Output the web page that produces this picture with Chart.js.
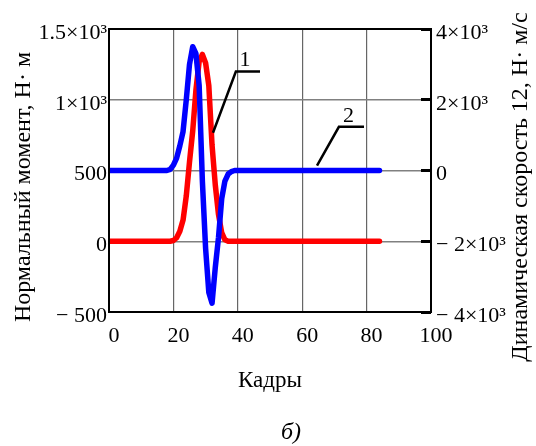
<!DOCTYPE html>
<html>
<head>
<meta charset="utf-8">
<script src="https://cdn.jsdelivr.net/npm/chart.js@4.4.1/dist/chart.umd.min.js"></script>
<style>
  html, body { margin: 0; padding: 0; background: #fff; }
</style>
</head>
<body>
<canvas id="chart" width="536" height="446"></canvas>
<script>
// frame numbers (x axis)
var frames = [0,1,2,3,4,5,6,7,8,9,10,11,12,13,14,15,16,17,18,19,20,
  21,22,23,24,25,26,27,28,29,30,31,32,33,34,35,36,37,38,39,40,
  41,42,43,44,45,46,47,48,49,50,51,52,53,54,55,56,57,58,59,60,
  61,62,63,64,65,66,67,68,69,70,71,72,73,74,75,76,77,78,79,80,
  81,82,83,84];

// curve 1: normal moment, N·m (left axis)
var moment = [0,0,0,0,0,0,0,0,0,0,0,0,0,0,0,0,0,0,0,0,5,
  25,70,150,320,560,780,1070,1270,1320,1260,1100,680,400,190,60,10,0,0,0,0,
  0,0,0,0,0,0,0,0,0,0,0,0,0,0,0,0,0,0,0,0,
  0,0,0,0,0,0,0,0,0,0,0,0,0,0,0,0,0,0,0,0,
  0,0,0,0];

// curve 2: dynamic speed 12, N·m/s (right axis)
var speed = [0,0,0,0,0,0,0,0,0,0,0,0,0,0,0,0,0,0,0,30,150,
  350,700,1100,2000,3000,3500,3300,2400,-300,-2200,-3450,-3750,-2750,-1900,-800,-300,-100,-30,0,0,
  0,0,0,0,0,0,0,0,0,0,0,0,0,0,0,0,0,0,0,0,
  0,0,0,0,0,0,0,0,0,0,0,0,0,0,0,0,0,0,0,0,
  0,0,0,0];

var frameTicks = [0, 20, 40, 60, 80, 100];
var momentTicks = [-500, 0, 500, 1000, 1500];
var momentTickLabels = ['\u2212 500', '0', '500', '1\u00d710\u00b3', '1.5\u00d710\u00b3'];
var speedTicks = [-4000, -2000, 0, 2000, 4000];
var speedTickLabels = ['\u2212 4\u00d710\u00b3', '\u2212 2\u00d710\u00b3', '0', '2\u00d710\u00b3', '4\u00d710\u00b3'];

var momentTitle = 'Нормальный момент, Н\u00b7 м';
var speedTitle = 'Динамическая скорость 12, Н\u00b7 м/с';
var framesTitle = 'Кадры';
var panelLabel = 'б)';

// numbered callouts, in data units of x / left axis
var callouts = [
  { text: '1', from: [32.3, 767], knee: [39.4, 1199], to: [46.9, 1199], label: [42.2, 1235] },
  { text: '2', from: [64.6, 534], knee: [71.4, 809], to: [79.2, 809], label: [74.4, 845] }
];

var serif = '"Liberation Serif", "Times New Roman", serif';
Chart.defaults.font.family = serif;
Chart.defaults.font.size = 22;
Chart.defaults.color = '#000';

var decor = {
  id: 'decor',
  afterDatasetsDraw: function(chart) {
    var ctx = chart.ctx, a = chart.chartArea;
    var x = chart.scales.x, y = chart.scales.y;
    ctx.save();
    // plot frame
    ctx.strokeStyle = '#000';
    ctx.lineWidth = 2;
    ctx.strokeRect(a.left, a.top, a.right - a.left, a.bottom - a.top);

    // callout leaders
    ctx.lineWidth = 2.5;
    ctx.font = '22px ' + serif;
    ctx.fillStyle = '#000';
    ctx.textAlign = 'center';
    ctx.textBaseline = 'alphabetic';
    callouts.forEach(function(c) {
      ctx.beginPath();
      ctx.moveTo(x.getPixelForValue(c.from[0]), y.getPixelForValue(c.from[1]));
      ctx.lineTo(x.getPixelForValue(c.knee[0]), y.getPixelForValue(c.knee[1]));
      ctx.lineTo(x.getPixelForValue(c.to[0]), y.getPixelForValue(c.to[1]));
      ctx.stroke();
      ctx.fillText(c.text, x.getPixelForValue(c.label[0]), y.getPixelForValue(c.label[1]));
    });

    // rotated axis titles, both reading bottom to top
    ctx.font = '24px ' + serif;
    ctx.textBaseline = 'middle';
    ctx.save();
    ctx.translate(24, 187);
    ctx.rotate(-Math.PI / 2);
    ctx.fillText(momentTitle, 0, 0);
    ctx.restore();
    ctx.save();
    ctx.translate(521, 187);
    ctx.rotate(-Math.PI / 2);
    ctx.fillText(speedTitle, 0, 0);
    ctx.restore();

    // panel letter
    ctx.font = 'italic 24px ' + serif;
    ctx.fillText(panelLabel, 291, 433);
    ctx.restore();
  }
};

new Chart(document.getElementById('chart'), {
  type: 'line',
  data: {
    labels: frames,
    datasets: [{
      label: '2',
      data: speed,
      yAxisID: 'y2',
      borderColor: '#0000ff',
      borderWidth: 5.5,
      borderCapStyle: 'round',
      borderJoinStyle: 'round',
      pointRadius: 0,
      tension: 0
    }, {
      label: '1',
      data: moment,
      yAxisID: 'y',
      borderColor: '#ff0000',
      borderWidth: 5.5,
      borderCapStyle: 'round',
      borderJoinStyle: 'round',
      pointRadius: 0,
      tension: 0
    }]
  },
  options: {
    responsive: false,
    animation: false,
    layout: { padding: { top: 29, left: 0, right: 0, bottom: 0 } },
    plugins: {
      legend: { display: false },
      tooltip: { enabled: false },
      title: { display: false }
    },
    scales: {
      x: {
        type: 'linear',
        min: 0,
        max: 100,
        afterBuildTicks: function(s) { s.ticks = frameTicks.map(function(v) { return { value: v }; }); },
        afterFit: function(s) { s.height = 134; },
        border: { display: false },
        grid: { color: '#666', lineWidth: 1.2, drawTicks: false },
        ticks: { padding: 11, labelOffset: 5, maxRotation: 0, autoSkip: false },
        title: { display: true, text: framesTitle, font: { size: 23 }, padding: { top: 0, bottom: 51 } }
      },
      y: {
        position: 'left',
        min: -500,
        max: 1500,
        afterBuildTicks: function(s) { s.ticks = momentTicks.map(function(v) { return { value: v }; }); },
        afterFit: function(s) { s.width = 109; },
        border: { display: false },
        grid: { color: '#808080', lineWidth: 1.5, drawTicks: false },
        ticks: {
          padding: 2,
          labelOffset: 4,
          autoSkip: false,
          callback: function(v) { return momentTickLabels[momentTicks.indexOf(v)]; }
        }
      },
      y2: {
        position: 'right',
        min: -4000,
        max: 4000,
        afterBuildTicks: function(s) { s.ticks = speedTicks.map(function(v) { return { value: v }; }); },
        afterFit: function(s) { s.width = 105; },
        border: { display: false },
        grid: { drawOnChartArea: false, drawTicks: true, tickLength: -10, color: '#000', lineWidth: 3 },
        ticks: {
          padding: 15,
          labelOffset: 4,
          autoSkip: false,
          callback: function(v) { return speedTickLabels[speedTicks.indexOf(v)]; }
        }
      }
    }
  },
  plugins: [decor]
});
</script>
</body>
</html>
